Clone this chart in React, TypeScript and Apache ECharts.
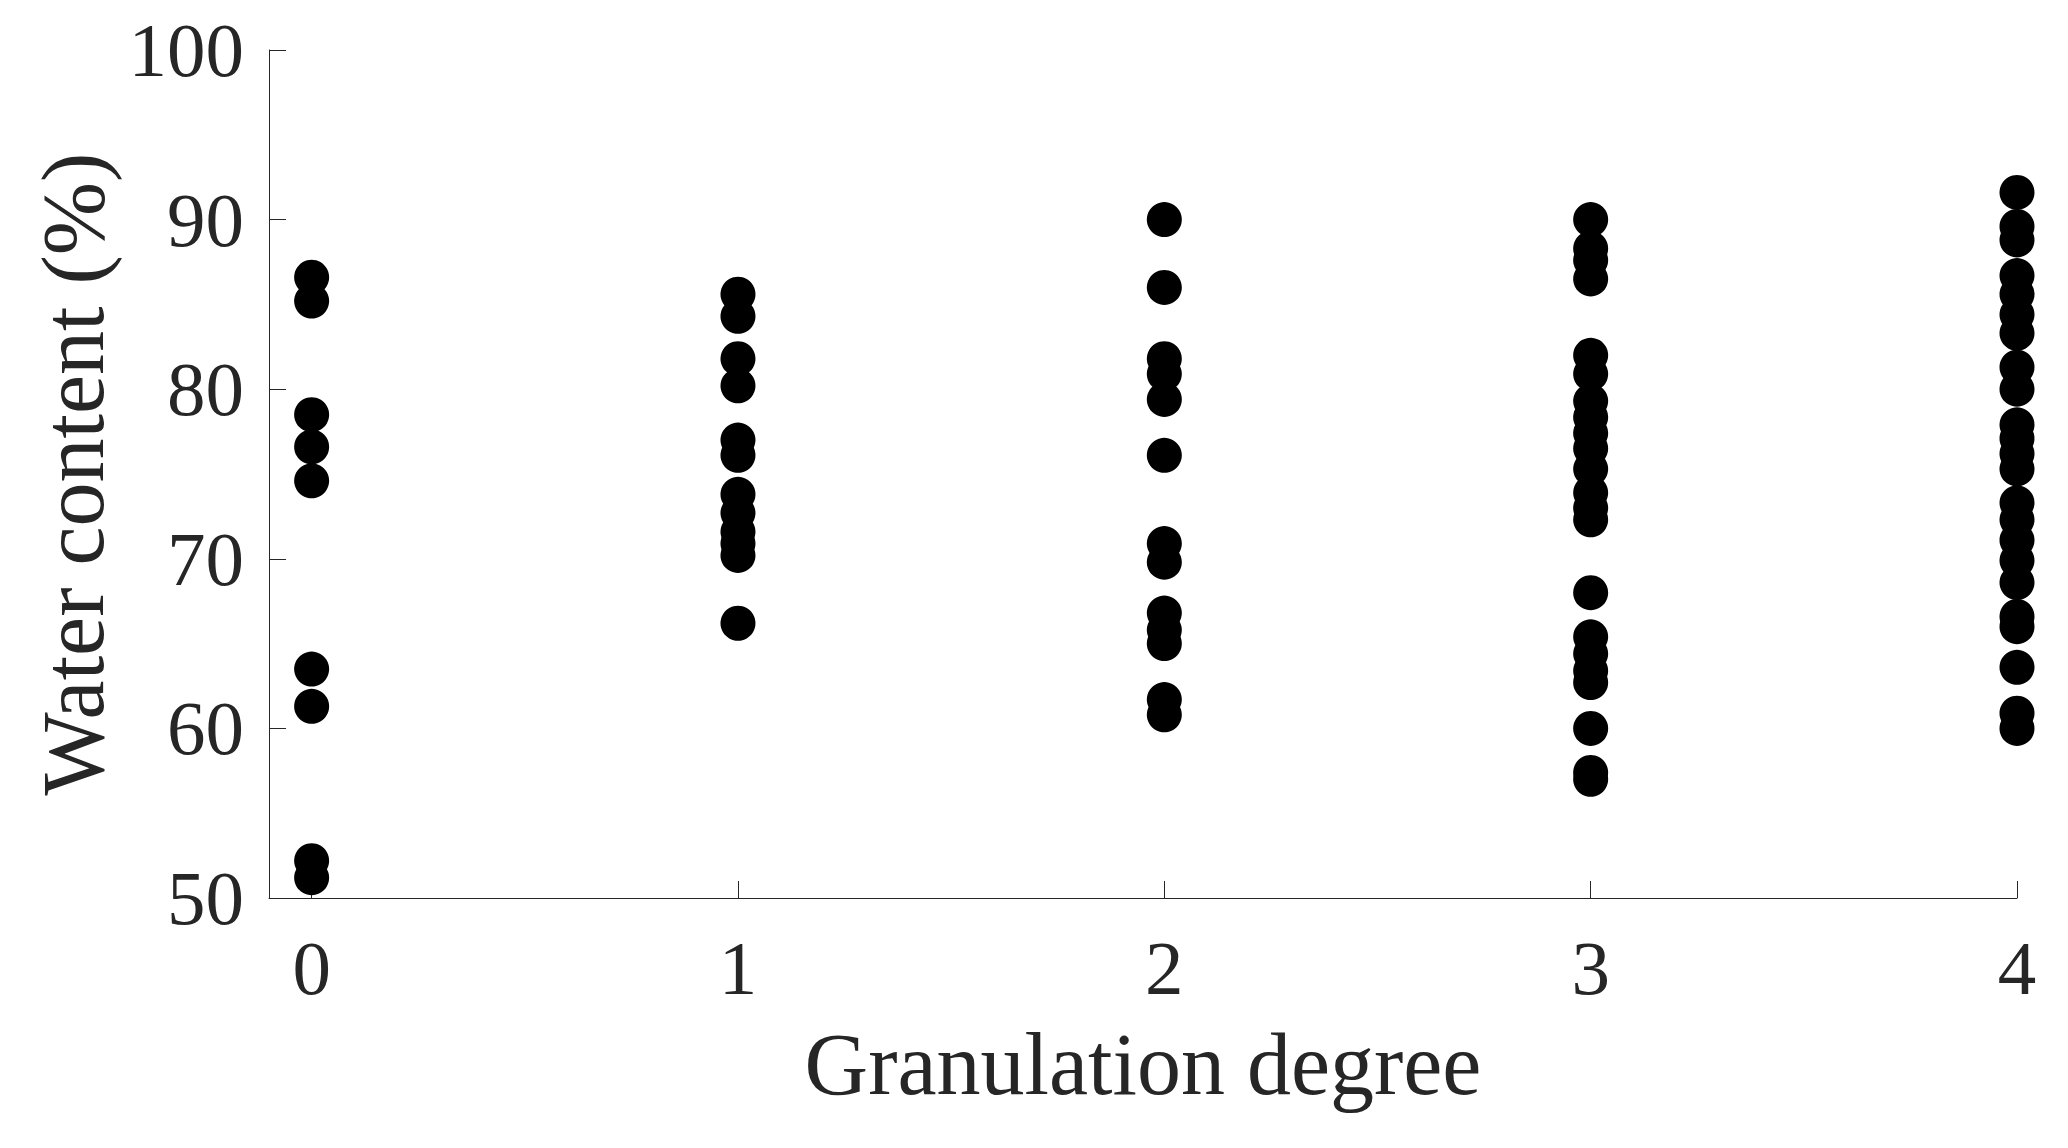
import React, { useEffect, useRef } from "react";
import * as echarts from "echarts";

const xTickValues = [0, 1, 2, 3, 4];
const yTickMin = 50;
const yTickMax = 100;

const degree0 = [86.6, 85.2, 78.5, 76.6, 74.6, 63.5, 61.3, 52.2, 51.2];
const degree1 = [85.6, 84.3, 81.8, 80.2, 77.0, 76.1, 73.8, 72.7, 71.6, 70.9, 70.2, 66.2];
const degree2 = [90.0, 86.0, 81.8, 80.9, 79.4, 76.1, 70.9, 69.8, 66.8, 65.8, 65.0, 61.7, 60.8];
const degree3 = [
  90.0, 88.3, 87.6, 86.5, 82.0, 80.9, 79.3, 78.35, 77.4, 76.5, 75.3, 73.9, 73.0, 72.3,
  68.0, 65.4, 64.4, 63.4, 62.7, 60.0, 57.4, 57.0,
];
const degree4 = [
  91.6, 89.6, 88.8, 86.7, 85.6, 84.4, 83.3, 81.3, 80.0, 77.9, 77.1, 76.2, 75.3, 73.3,
  72.3, 71.1, 69.9, 68.6, 66.6, 66.0, 63.6, 60.9, 60.0,
];

const groups = [degree0, degree1, degree2, degree3, degree4];

export default function App() {
  const ref = useRef<HTMLDivElement>(null);

  useEffect(() => {
    document.body.style.margin = "0";
    if (!ref.current) return;
    const chart = echarts.init(ref.current, undefined, { renderer: "svg" });
    const points: number[][] = [];
    groups.forEach((vals, gi) => {
      vals.forEach((v) => points.push([xTickValues[gi], v]));
    });
    const font = "Liberation Serif, Times New Roman, serif";
    const axisColor = "#262626";
    chart.setOption({
      animation: false,
      backgroundColor: "#ffffff",
      grid: { left: 269, top: 50, right: 51, bottom: 250 },
      xAxis: {
        type: "value",
        min: -0.1,
        max: 4,
        name: "Granulation degree",
        nameLocation: "middle",
        nameGap: 122,
        nameTextStyle: { fontFamily: font, fontSize: 88, color: axisColor },
        axisLine: { show: true, onZero: false, lineStyle: { color: axisColor, width: 1 } },
        axisTick: {
          show: true,
          inside: true,
          length: 17,
          customValues: xTickValues,
          lineStyle: { color: axisColor, width: 1 },
        },
        axisLabel: {
          customValues: xTickValues,
          margin: 31,
          fontFamily: font,
          fontSize: 77,
          color: axisColor,
        },
        splitLine: { show: false },
      },
      yAxis: {
        type: "value",
        min: yTickMin,
        max: yTickMax,
        interval: 10,
        name: "Water content (%)",
        nameLocation: "middle",
        nameGap: 150,
        nameRotate: 90,
        nameTextStyle: { fontFamily: font, fontSize: 88, color: axisColor },
        axisLine: { show: true, onZero: false, lineStyle: { color: axisColor, width: 1 } },
        axisTick: { show: true, inside: true, length: 17, lineStyle: { color: axisColor, width: 1 } },
        axisLabel: { margin: 25, fontFamily: font, fontSize: 77, color: axisColor },
        splitLine: { show: false },
      },
      series: [
        {
          type: "scatter",
          data: points,
          symbol: "circle",
          symbolSize: 35,
          itemStyle: { color: "#000000", opacity: 1 },
        },
      ],
    });
    return () => chart.dispose();
  }, []);

  return (
    <div
      ref={ref}
      style={{ position: "absolute", left: 0, top: 0, width: 2068, height: 1148 }}
    />
  );
}
